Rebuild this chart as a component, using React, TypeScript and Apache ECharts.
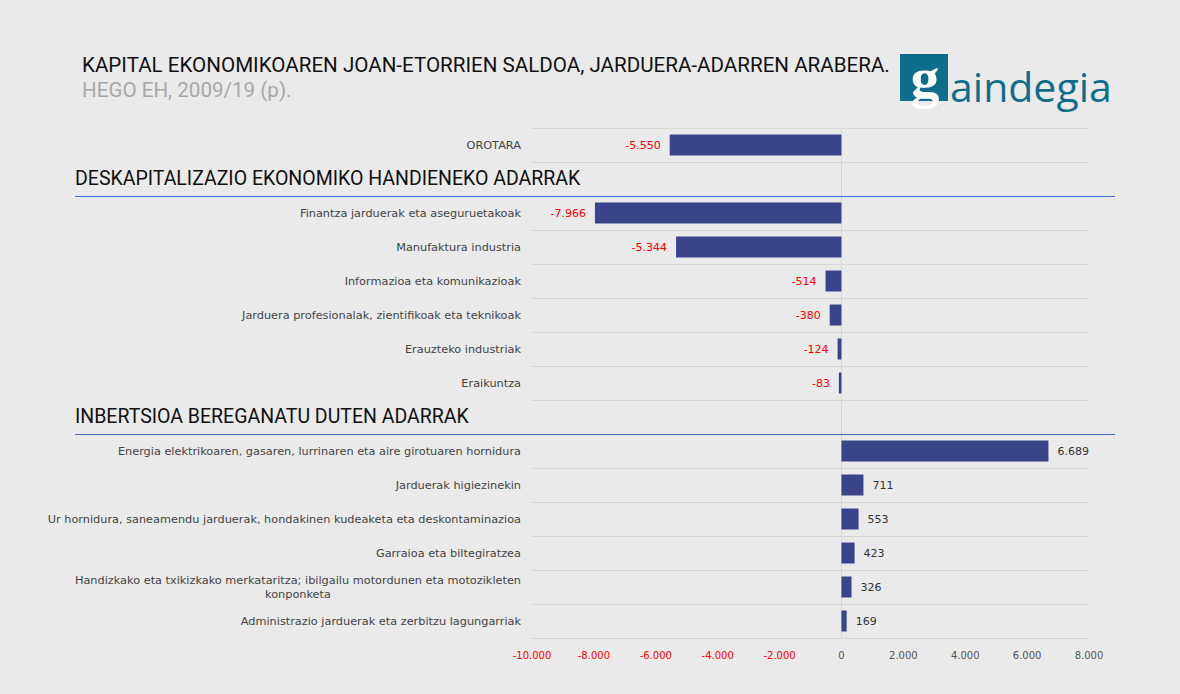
import React, { useEffect, useRef } from "react";
import * as echarts from "echarts";

const categories: string[] = [
  "OROTARA",
  "DESKAPITALIZAZIO EKONOMIKO HANDIENEKO ADARRAK",
  "Finantza jarduerak eta aseguruetakoak",
  "Manufaktura industria",
  "Informazioa eta komunikazioak",
  "Jarduera profesionalak, zientifikoak eta teknikoak",
  "Erauzteko industriak",
  "Eraikuntza",
  "INBERTSIOA BEREGANATU DUTEN ADARRAK",
  "Energia elektrikoaren, gasaren, lurrinaren eta aire girotuaren hornidura",
  "Jarduerak higiezinekin",
  "Ur hornidura, saneamendu jarduerak, hondakinen kudeaketa eta deskontaminazioa",
  "Garraioa eta biltegiratzea",
  "Handizkako eta txikizkako merkataritza; ibilgailu motordunen eta motozikleten\nkonponketa",
  "Administrazio jarduerak eta zerbitzu lagungarriak",
];

const headerCategories: string[] = [
  "DESKAPITALIZAZIO EKONOMIKO HANDIENEKO ADARRAK",
  "INBERTSIOA BEREGANATU DUTEN ADARRAK",
];

const values: (number | null)[] = [
  -5550, null, -7966, -5344, -514, -380, -124, -83, null, 6689, 711, 553, 423, 326, 169,
];

const xMin = -10000;
const xMax = 8000;
const xInterval = 2000;

const titleText = "KAPITAL EKONOMIKOAREN JOAN-ETORRIEN SALDOA, JARDUERA-ADARREN ARABERA.";
const subtitleText = "HEGO EH, 2009/19 (p).";

const FONT = "Roboto, 'Noto Sans', sans-serif";
const SMALL = "'DejaVu Sans', sans-serif";

function fmt(v: number): string {
  const s = Math.abs(v)
    .toString()
    .replace(/\B(?=(\d{3})+(?!\d))/g, ".");
  return (v < 0 ? "-" : "") + s;
}

function baseGraphics(): any[] {
  return [
    {
      id: "title",
      type: "text",
      left: 82,
      top: 54,
      style: { text: titleText, font: `normal 20.6px ${FONT}`, fill: "#111111" },
    },
    {
      id: "subtitle",
      type: "text",
      left: 82,
      top: 79,
      style: { text: subtitleText, font: `normal 20.6px ${FONT}`, fill: "#a8a8a8" },
    },
    {
      id: "logoBox",
      type: "rect",
      shape: { x: 900, y: 54, width: 48, height: 47 },
      style: { fill: "#0f6f8b" },
    },
    {
      id: "logoG",
      type: "text",
      x: 925,
      y: 77,
      style: {
        text: "g",
        font: `bold 58px 'Liberation Serif', serif`,
        fill: "#ffffff",
        align: "center",
        verticalAlign: "middle",
      },
    },
    {
      id: "logoText",
      type: "text",
      x: 950,
      y: 86,
      style: {
        text: "aindegia",
        font: `normal 41px 'Open Sans', sans-serif`,
        fill: "#0f6f8b",
        align: "left",
        verticalAlign: "middle",
      },
    },
  ];
}

export default function App() {
  const ref = useRef<HTMLDivElement>(null);

  useEffect(() => {
    document.body.style.margin = "0";
    if (!ref.current) return;
    const chart = echarts.init(ref.current, null, { renderer: "svg" });

    const data = values.map((v) => {
      if (v === null) return { value: null };
      return {
        value: v,
        label: {
          position: v < 0 ? "left" : "right",
          color: v < 0 ? "#ff0000" : "#333333",
        },
      };
    });

    const option: any = {
      animation: false,
      backgroundColor: "#eaeaea",
      grid: { left: 532, right: 91, top: 128, bottom: 56, containLabel: false },
      xAxis: {
        type: "value",
        min: xMin,
        max: xMax,
        interval: xInterval,
        splitLine: { show: false },
        axisLine: { show: false },
        axisTick: { show: false },
        axisLabel: {
          margin: 12,
          fontSize: 10,
          fontFamily: SMALL,
          formatter: (v: number) => (v < 0 ? `{neg|${fmt(v)}}` : `{pos|${fmt(v)}}`),
          rich: {
            neg: { color: "#ff0000", fontSize: 10, fontFamily: SMALL },
            pos: { color: "#555555", fontSize: 10, fontFamily: SMALL },
          },
        },
      },
      yAxis: {
        type: "category",
        data: categories,
        inverse: true,
        axisLine: { show: false },
        axisTick: { show: false },
        splitLine: { show: true, lineStyle: { color: "#d6d6d6", width: 1 } },
        axisLabel: {
          margin: 11,
          interval: 0,
          formatter: (v: string) => {
            if (headerCategories.includes(v)) return `{h|${v}}`;
            if (v.includes("\n")) return v.split("\n").map((l) => `{c|${l}}`).join("\n");
            return `{n|${v}}`;
          },
          rich: {
            h: {
              fontSize: 19.5,
              fontFamily: FONT,
              color: "#111111",
              width: 446,
              align: "left",
              padding: [0, 0, 2, 0],
            },
            n: { fontSize: 11.3, fontFamily: SMALL, color: "#444444" },
            c: { fontSize: 11.3, fontFamily: SMALL, color: "#444444", align: "center", lineHeight: 14 },
          },
        },
      },
      series: [
        {
          type: "bar",
          data,
          barWidth: 21,
          itemStyle: { color: "#3b438a" },
          label: {
            show: true,
            distance: 9,
            fontSize: 11,
            fontFamily: SMALL,
            formatter: (p: any) => (p.value === null || p.value === undefined ? "" : fmt(p.value)),
          },
          markLine: {
            silent: true,
            symbol: "none",
            label: { show: false },
            lineStyle: { color: "#d6d6d6", type: "solid", width: 1 },
            data: [{ xAxis: 0 }],
            z: 1,
          },
        },
      ],
      graphic: baseGraphics(),
    };

    chart.setOption(option);

    const c0 = chart.convertToPixel({ yAxisIndex: 0 }, categories[0]) as number;
    const c1 = chart.convertToPixel({ yAxisIndex: 0 }, categories[1]) as number;
    const band = Math.abs(c1 - c0);
    const lineColors = ["#3b6fd0", "#4466b8"];
    const lines = headerCategories.map((h, i) => {
      const cy = chart.convertToPixel({ yAxisIndex: 0 }, h) as number;
      const y = Math.round(cy + band / 2) + 0.5;
      return {
        id: "hline" + i,
        type: "line",
        shape: { x1: 75, y1: y, x2: 1115, y2: y },
        style: { stroke: lineColors[i], lineWidth: 1.2 },
        z: 10,
      };
    });
    chart.setOption({ graphic: [...baseGraphics(), ...lines] });

    return () => chart.dispose();
  }, []);

  return (
    <div
      ref={ref}
      style={{ position: "fixed", left: 0, top: 0, width: 1180, height: 694 }}
    />
  );
}
